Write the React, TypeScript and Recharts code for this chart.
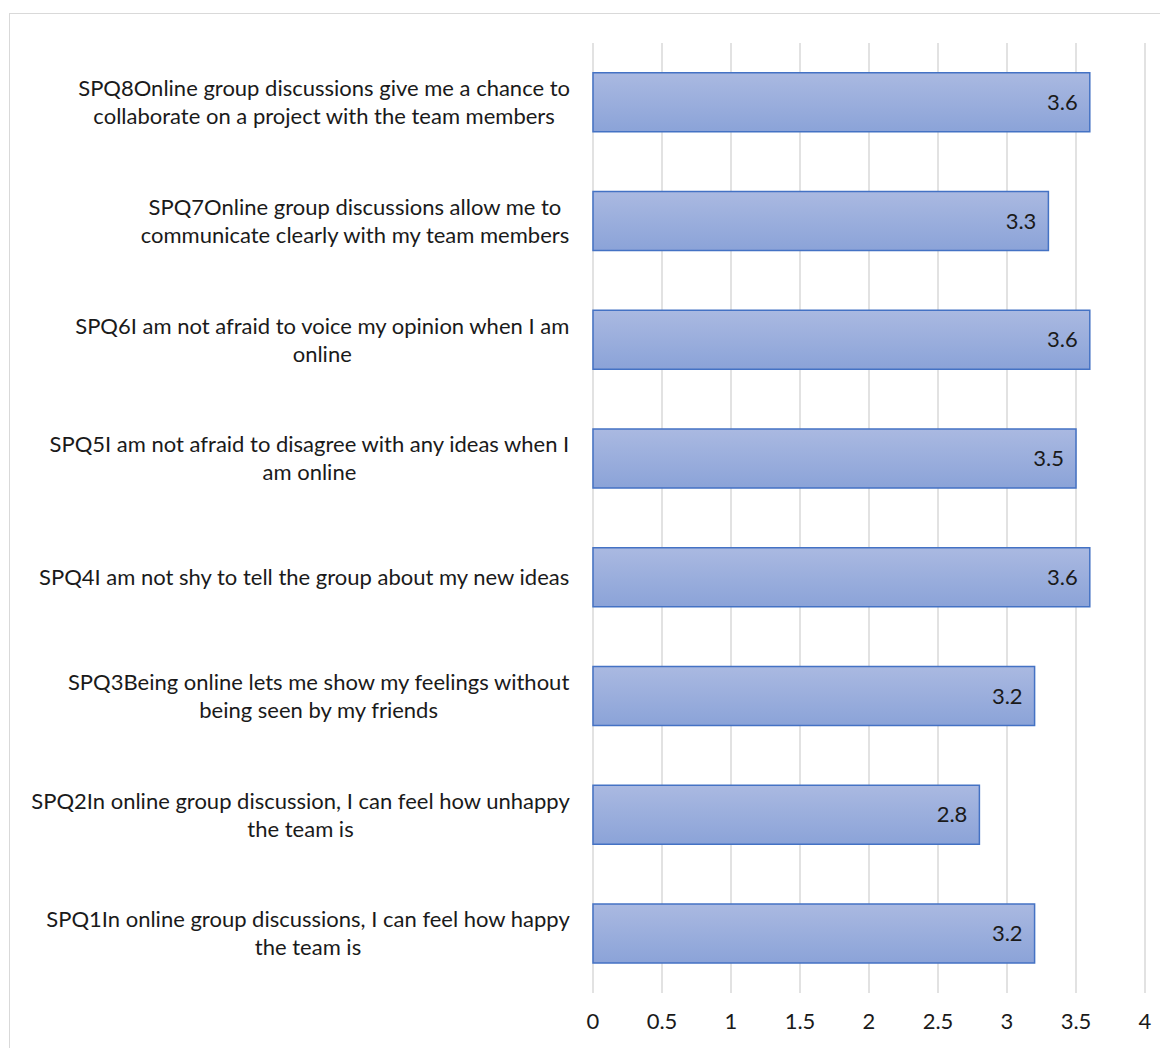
import React from "react";
import { BarChart, Bar, XAxis, YAxis, CartesianGrid, LabelList } from "recharts";

const QUESTIONS = [
  "SPQ1In online group discussions, I can feel how happy\nthe team is",
  "SPQ2In online group discussion, I can feel how unhappy\nthe team is",
  "SPQ3Being online lets me show my feelings without\nbeing seen by my friends",
  "SPQ4I am not shy to tell the group about my new ideas",
  "SPQ5I am not afraid to disagree with any ideas when I\nam online",
  "SPQ6I am not afraid to voice my opinion when I am\nonline",
  "SPQ7Online group discussions allow me to\ncommunicate clearly with my team members",
  "SPQ8Online group discussions give me a chance to\ncollaborate on a project with the team members",
];
const SCORES = [3.2, 2.8, 3.2, 3.6, 3.5, 3.6, 3.3, 3.6];
const X_TICKS = [0, 0.5, 1, 1.5, 2, 2.5, 3, 3.5, 4];

const data = QUESTIONS.map((q, i) => ({ question: q, score: SCORES[i] }));

const FONT = "Lato, 'Open Sans', sans-serif";
const FONT_SIZE = 22;
const LABEL_RIGHT = 562;

let ctx: CanvasRenderingContext2D | null = null;
function textWidth(s: string) {
  if (!ctx) ctx = document.createElement("canvas").getContext("2d");
  if (!ctx) return s.length * 9;
  ctx.font = `${FONT_SIZE}px Lato`;
  return ctx.measureText(s).width;
}

function QuestionTick(props: any) {
  const { y, payload } = props;
  const lines: string[] = String(payload.value).split("\n");
  const w = Math.max(...lines.map(textWidth));
  const cx = LABEL_RIGHT - w / 2;
  const lh = 28;
  const y0 = y - ((lines.length - 1) * lh) / 2;
  return (
    <text textAnchor="middle" fontFamily={FONT} fontSize={FONT_SIZE} fill="#1a1a1a">
      {lines.map((l, i) => (
        <tspan key={i} x={cx} y={y0 + i * lh} dy="0.35em">
          {l}
        </tspan>
      ))}
    </text>
  );
}

export default function App() {
  return (
    <div style={{ position: "relative", width: 1160, height: 1040, overflow: "hidden" }}>
      <div
        style={{
          position: "absolute",
          left: 1,
          top: 5,
          width: 1200,
          height: 1100,
          border: "1px solid #D9D9D9",
          background: "#fff",
        }}
      />
      <div style={{ position: "absolute", left: 0, top: 0 }}>
        <BarChart
          width={1160}
          height={1040}
          data={data}
          layout="vertical"
          barCategoryGap="25%"
          margin={{ top: 35, right: 23, bottom: 0, left: 0 }}
        >
          <defs>
            <linearGradient id="barFill" x1="0" y1="0" x2="0" y2="1">
              <stop offset="0%" stopColor="#AAB9E1" />
              <stop offset="100%" stopColor="#8BA3D8" />
            </linearGradient>
          </defs>
          <CartesianGrid horizontal={false} stroke="#D9D9D9" strokeWidth={1.5} />
          <XAxis
            type="number"
            domain={[0, 4]}
            ticks={X_TICKS}
            height={55}
            axisLine={false}
            tickLine={false}
            tickMargin={14}
            tick={{ fontFamily: FONT, fontSize: FONT_SIZE, fill: "#1a1a1a" }}
          />
          <YAxis
            type="category"
            dataKey="question"
            reversed
            width={585}
            axisLine={false}
            tickLine={false}
            interval={0}
            tick={<QuestionTick />}
          />
          <Bar
            dataKey="score"
            fill="url(#barFill)"
            stroke="#4472C4"
            strokeWidth={1.5}
            isAnimationActive={false}
          >
            <LabelList
              dataKey="score"
              position="insideRight"
              offset={12}
              fontFamily={FONT}
              fontSize={FONT_SIZE}
              fill="#1a1a1a"
            />
          </Bar>
        </BarChart>
      </div>
    </div>
  );
}
